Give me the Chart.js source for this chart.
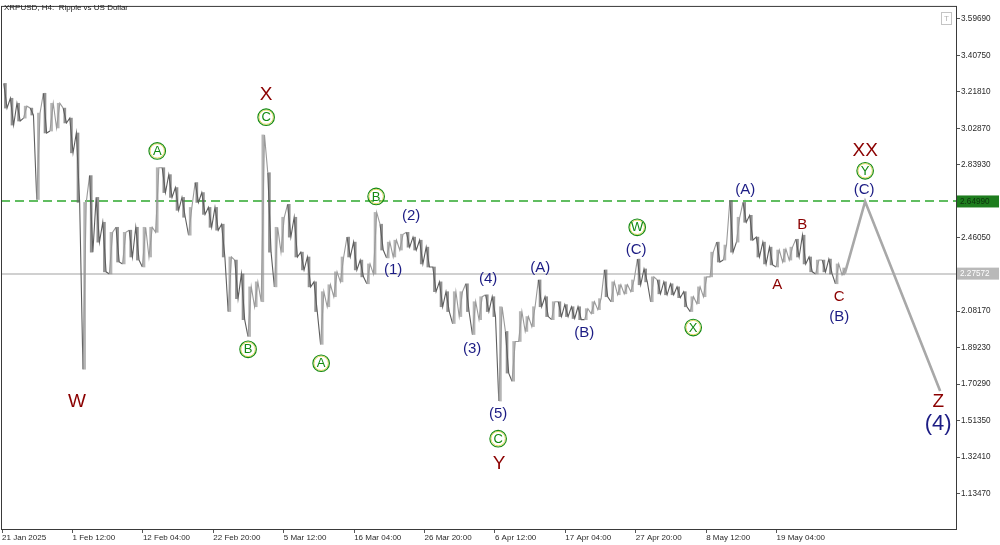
<!DOCTYPE html>
<html>
<head>
<meta charset="utf-8">
<title>XRPUSD, H4</title>
<script src="https://cdn.jsdelivr.net/npm/chart.js@4.4.1/dist/chart.umd.min.js"></script>
<style>
  html, body { margin: 0; padding: 0; background: #fff; }
  canvas { display: block; }
</style>
</head>
<body>
<canvas id="grafico" width="1000" height="545"></canvas>
<script>
// XRPUSD H4 from 21 Jan 2025 20:00, one high/low pair per day (6 bars of 4h)
var dayHigh = [
  3.262, 3.185, 3.159, 3.144, 3.134, 3.108, 3.211, 3.159, 3.159, 3.134,
  3.082, 3.005, 2.645, 2.784, 2.671, 2.542, 2.490, 2.516, 2.490, 2.501,
  2.516, 2.516, 2.516, 2.825, 2.825, 2.789, 2.722, 2.671, 2.619, 2.748,
  2.696, 2.619, 2.619, 2.532, 2.362, 2.346, 2.274, 2.207, 2.233, 2.995,
  2.799, 2.516, 2.568, 2.635, 2.568, 2.387, 2.362, 2.233, 2.182, 2.218,
  2.285, 2.362, 2.465, 2.439, 2.346, 2.326, 2.593, 2.532, 2.439, 2.449,
  2.480, 2.490, 2.465, 2.449, 2.413, 2.310, 2.233, 2.182, 2.182, 2.182,
  2.223, 2.130, 2.156, 2.166, 2.156, 2.104, 1.976, 1.924, 2.079, 2.053,
  2.104, 2.243, 2.156, 2.130, 2.130, 2.115, 2.104, 2.104, 2.094, 2.130,
  2.146, 2.295, 2.233, 2.218, 2.218, 2.243, 2.351, 2.300, 2.259, 2.243,
  2.233, 2.223, 2.207, 2.182, 2.156, 2.207, 2.259, 2.387, 2.439, 2.424,
  2.655, 2.568, 2.645, 2.578, 2.465, 2.439, 2.413, 2.398, 2.403, 2.413,
  2.454, 2.475, 2.362, 2.346, 2.346, 2.351, 2.326, 2.305
];
var dayLow = [
  3.134, 3.046, 3.067, 3.082, 3.098, 2.660, 3.005, 3.015, 3.031, 3.057,
  2.902, 2.645, 1.780, 2.387, 2.439, 2.285, 2.274, 2.336, 2.326, 2.362,
  2.346, 2.310, 2.362, 2.490, 2.696, 2.671, 2.604, 2.568, 2.475, 2.645,
  2.583, 2.516, 2.501, 2.362, 2.079, 2.146, 2.037, 1.950, 2.104, 2.130,
  2.387, 2.207, 2.387, 2.465, 2.362, 2.295, 2.207, 2.079, 1.909, 2.104,
  2.156, 2.233, 2.362, 2.295, 2.259, 2.223, 2.274, 2.398, 2.357, 2.362,
  2.398, 2.413, 2.398, 2.326, 2.310, 2.182, 2.104, 2.079, 2.017, 2.053,
  2.079, 1.960, 2.037, 2.079, 2.053, 1.615, 1.760, 1.718, 1.924, 1.976,
  2.001, 2.104, 2.053, 2.037, 2.053, 2.053, 2.043, 2.037, 2.037, 2.068,
  2.089, 2.156, 2.130, 2.166, 2.171, 2.182, 2.218, 2.233, 2.130, 2.171,
  2.166, 2.166, 2.151, 2.104, 2.079, 2.120, 2.156, 2.259, 2.336, 2.346,
  2.387, 2.439, 2.542, 2.449, 2.362, 2.326, 2.321, 2.310, 2.336, 2.346,
  2.362, 2.326, 2.285, 2.274, 2.285, 2.274, 2.223, 2.269
];
var barsPerDay = 6;

var tickBars = [0, 64, 128, 192, 256, 320, 384, 448, 512, 576, 640, 704];
var tickLabels = ['21 Jan 2025', '1 Feb 12:00', '12 Feb 04:00', '22 Feb 20:00', '5 Mar 12:00', '16 Mar 04:00',
                  '26 Mar 20:00', '6 Apr 12:00', '17 Apr 04:00', '27 Apr 20:00', '8 May 12:00', '19 May 04:00'];
var priceTicks = [3.59690, 3.40750, 3.21810, 3.02870, 2.83930, 2.64990, 2.46050,
                  2.08170, 1.89230, 1.70290, 1.51350, 1.32410, 1.13470];

var levelGreen = 2.64990;
var levelNow = 2.27572;

// forecast path (bar, price)
var forecastBars = [766, 784.5, 852.7];
var forecastPrices = [2.27572, 2.64990, 1.667];

// wave marks: text, bar, price, degree
var waves = [
  ['W', 68, 1.610, 'primary'],
  ['X', 240, 3.201, 'primary'],
  ['C', 240, 3.087, 'minor'],
  ['A', 141, 2.912, 'minor'],
  ['B', 223.6, 1.883, 'minor'],
  ['A', 290, 1.811, 'minor'],
  ['B', 340, 2.676, 'minor'],
  ['(1)', 355.5, 2.295, 'inter'],
  ['(2)', 371.8, 2.573, 'inter'],
  ['(3)', 427.3, 1.888, 'inter'],
  ['(4)', 441.8, 2.248, 'inter'],
  ['(5)', 450.9, 1.548, 'inter'],
  ['C', 450.9, 1.420, 'minor'],
  ['Y', 451.8, 1.291, 'primary'],
  ['(A)', 489.1, 2.305, 'inter'],
  ['(B)', 529.1, 1.970, 'inter'],
  ['W', 577.3, 2.516, 'minor'],
  ['(C)', 576.4, 2.398, 'inter'],
  ['X', 628.2, 1.996, 'minor'],
  ['(A)', 675.5, 2.712, 'inter'],
  ['A', 704.5, 2.218, 'sub'],
  ['B', 727.3, 2.526, 'sub'],
  ['C', 760.9, 2.156, 'sub'],
  ['(B)', 760.9, 2.053, 'inter'],
  ['XX', 784.5, 2.912, 'primary'],
  ['Y', 784.5, 2.809, 'minor'],
  ['(C)', 783.6, 2.712, 'inter'],
  ['Z', 850.9, 1.610, 'primary'],
  ['(4)', 850.9, 1.497, 'cycle']
];

var FONT = '"Liberation Sans", Arial, sans-serif';

// high/low path, order of each day follows where the next day goes
var precio = [];
var rangos = [];
var sube = [];
for (var i = 0; i < dayHigh.length; i++) {
  var mid = (dayHigh[i] + dayLow[i]) / 2;
  var j = i < dayHigh.length - 1 ? i + 1 : i - 1;
  var otro = (dayHigh[j] + dayLow[j]) / 2;
  var up = i < dayHigh.length - 1 ? otro > mid : otro < mid;
  var x0 = barsPerDay * i + 1.5, x1 = barsPerDay * i + 4.5;
  if (up) {
    precio.push({x: x0, y: dayLow[i]}, {x: x1, y: dayHigh[i]});
  } else {
    precio.push({x: x0, y: dayHigh[i]}, {x: x1, y: dayLow[i]});
  }
  rangos.push({x: barsPerDay * i + 3, y: [dayLow[i], dayHigh[i]]});
  sube.push(up);
}

var pronostico = forecastBars.map(function(b, k) { return {x: b, y: forecastPrices[k]}; });

var marcas = {
  id: 'marcas',
  beforeDatasetsDraw: function(chart) {
    // niveles horizontales
    var ctx = chart.ctx, a = chart.chartArea, ys = chart.scales.y;
    ctx.save();
    var yn = Math.round(ys.getPixelForValue(levelNow));
    ctx.strokeStyle = '#d0d0d0';
    ctx.lineWidth = 2;
    ctx.beginPath(); ctx.moveTo(a.left, yn); ctx.lineTo(a.right, yn); ctx.stroke();
    var yg = Math.round(ys.getPixelForValue(levelGreen));
    ctx.strokeStyle = '#2ea82e';
    ctx.lineWidth = 1.5;
    ctx.setLineDash([9, 5]);
    ctx.beginPath(); ctx.moveTo(a.left, yg); ctx.lineTo(a.right, yg); ctx.stroke();
    ctx.restore();
  },
  afterDatasetsDraw: function(chart) {
    var ctx = chart.ctx, xs = chart.scales.x, ys = chart.scales.y;
    ctx.save();
    ctx.textAlign = 'center';
    ctx.textBaseline = 'middle';
    waves.forEach(function(w) {
      var px = xs.getPixelForValue(w[1]), py = ys.getPixelForValue(w[2]);
      if (w[3] == 'minor') {
        ctx.beginPath();
        ctx.arc(px, py, 7.2, 0, Math.PI * 2);
        ctx.strokeStyle = '#e2d75c'; ctx.lineWidth = 1; ctx.stroke();
        ctx.beginPath();
        ctx.arc(px, py, 8.3, 0, Math.PI * 2);
        ctx.strokeStyle = '#128a12'; ctx.lineWidth = 1.1; ctx.stroke();
        ctx.fillStyle = '#128a12';
        ctx.font = '13px ' + FONT;
        ctx.fillText(w[0], px, py + 0.5);
      } else if (w[3] == 'inter') {
        ctx.fillStyle = '#1c1c84';
        ctx.font = '15px ' + FONT;
        ctx.fillText(w[0], px, py);
      } else if (w[3] == 'cycle') {
        ctx.fillStyle = '#1c1c84';
        ctx.font = '22px ' + FONT;
        ctx.fillText(w[0], px, py);
      } else if (w[3] == 'sub') {
        ctx.fillStyle = '#8b0000';
        ctx.font = '15px ' + FONT;
        ctx.fillText(w[0], px, py);
      } else {
        ctx.fillStyle = '#8b0000';
        ctx.font = '19px ' + FONT;
        ctx.fillText(w[0], px, py);
      }
    });
    ctx.restore();
  },
  afterDraw: function(chart) {
    var ctx = chart.ctx, a = chart.chartArea, ys = chart.scales.y;
    ctx.save();
    // marco
    ctx.strokeStyle = '#3a3a3a';
    ctx.lineWidth = 1;
    ctx.strokeRect(a.left + 0.5, a.top + 0.5, a.right - a.left - 1, a.bottom - a.top - 1);
    // titulo
    ctx.fillStyle = '#222';
    ctx.font = '8px ' + FONT;
    ctx.textAlign = 'left';
    ctx.textBaseline = 'middle';
    ctx.fillText('XRPUSD, H4:  Ripple vs US Dollar', 4, 8);
    // boton T
    ctx.strokeStyle = '#c4c4c4';
    ctx.strokeRect(941.5, 12.5, 10, 12);
    ctx.fillStyle = '#b0b0b0';
    ctx.font = '8px ' + FONT;
    ctx.textAlign = 'center';
    ctx.fillText('T', 946.5, 19);
    // etiquetas de nivel
    ctx.font = '8.2px ' + FONT;
    ctx.textAlign = 'left';
    var yg = ys.getPixelForValue(levelGreen);
    ctx.fillStyle = '#1e7d1e';
    ctx.fillRect(a.right, yg - 6, 42, 12);
    ctx.fillStyle = '#0c330c';
    ctx.fillText(levelGreen.toFixed(5), a.right + 3, yg);
    var yn = ys.getPixelForValue(levelNow);
    ctx.fillStyle = '#b9b9b9';
    ctx.fillRect(a.right, yn - 6, 42, 12);
    ctx.fillStyle = '#ffffff';
    ctx.fillText(levelNow.toFixed(5), a.right + 3, yn);
    ctx.restore();
  }
};

var xMin = -1, xMax = 868;

new Chart(document.getElementById('grafico'), {
  type: 'line',
  data: {
    datasets: [
      {
        data: pronostico,
        borderColor: '#a8a8a8',
        borderWidth: 2.6,
        pointRadius: 0,
        order: 0
      },
      {
        data: precio,
        borderColor: '#707070',
        borderWidth: 1.1,
        pointRadius: 0,
        order: 1,
        segment: {
          borderColor: function(c) {
            return sube[Math.floor(c.p0DataIndex / 2)] ? '#9a9a9a' : '#5e5e5e';
          }
        }
      },
      {
        type: 'bar',
        data: rangos,
        backgroundColor: function(c) { return sube[c.dataIndex] ? 'rgba(150,150,150,0.7)' : 'rgba(100,100,100,0.7)'; },
        borderWidth: 0,
        barThickness: 2,
        order: 2
      }
    ]
  },
  options: {
    responsive: false,
    animation: false,
    layout: { padding: { left: 1, top: 2, right: 0, bottom: 0 } },
    plugins: { legend: { display: false }, tooltip: { enabled: false } },
    scales: {
      x: {
        type: 'linear',
        offset: false,
        min: xMin,
        max: xMax,
        afterBuildTicks: function(s) { s.ticks = tickBars.map(function(b) { return {value: b}; }); },
        afterFit: function(s) { s.height = 15; },
        ticks: {
          autoSkip: false,
          maxRotation: 0,
          align: 'start',
          padding: 0,
          color: '#2a2a2a',
          font: { family: FONT, size: 8 },
          callback: function(v) { var k = tickBars.indexOf(v); return k >= 0 ? tickLabels[k] : ''; }
        },
        grid: { display: true, offset: false, drawOnChartArea: false, drawTicks: true, tickLength: 3, color: '#555' },
        border: { display: false }
      },
      y: {
        position: 'right',
        min: 0.9464,
        max: 3.6638,
        afterBuildTicks: function(s) { s.ticks = priceTicks.map(function(v) { return {value: v}; }); },
        afterFit: function(s) { s.width = 43; },
        ticks: {
          autoSkip: false,
          padding: 1,
          color: '#2a2a2a',
          font: { family: FONT, size: 8.2 },
          callback: function(v) { return Number(v).toFixed(5); }
        },
        grid: { display: true, drawOnChartArea: false, drawTicks: true, tickLength: 3, color: '#555' },
        border: { display: false }
      }
    }
  },
  plugins: [marcas]
});
</script>
</body>
</html>
